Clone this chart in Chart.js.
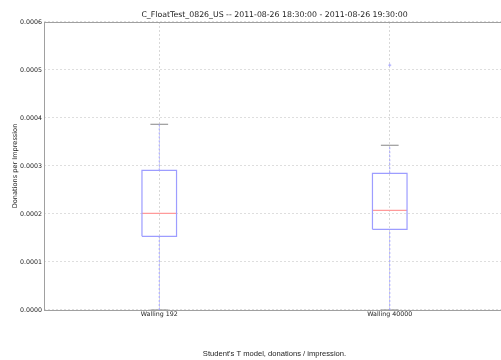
<!DOCTYPE html>
<html>
<head>
<meta charset="utf-8">
<script src="https://cdn.jsdelivr.net/npm/chart.js@4.4.1/dist/chart.umd.min.js"></script>
<style>
  html, body { margin: 0; padding: 0; background: #fff; overflow: hidden; }
  #wrap { width: 510px; height: 360px; }
</style>
</head>
<body>
<div id="wrap"><canvas id="c" width="510" height="360"></canvas></div>
<script>
// ---- data ----
const categories = ['Walling 192', 'Walling 40000'];
const q1 = [0.0001535, 0.0001681];
const medians = [0.0002014, 0.0002077];
const q3 = [0.0002910, 0.0002848];
const whiskerLow = [0.0, 0.0];
const whiskerHigh = [0.0003868, 0.0003431];
const fliers = [[], [0.000510]];
const yTicks = [0, 0.0001, 0.0002, 0.0003, 0.0004, 0.0005, 0.0006];

const BOX_HALF = 0.075;
const CAP_HALF = 0.0385;
const BLUE = '#9d9dff';
const datasets = [];
categories.forEach((cat, i) => {
  const x = i + 1;
  datasets.push({
    data: [{x: x - BOX_HALF, y: q1[i]}, {x: x + BOX_HALF, y: q1[i]}, {x: x + BOX_HALF, y: q3[i]},
           {x: x - BOX_HALF, y: q3[i]}, {x: x - BOX_HALF, y: q1[i]}],
    borderColor: BLUE, borderWidth: 1.2
  });
  datasets.push({
    data: [{x: x, y: whiskerLow[i]}, {x: x, y: q1[i]}],
    borderColor: BLUE, borderWidth: 1, borderDash: [2, 2]
  });
  datasets.push({
    data: [{x: x, y: q3[i]}, {x: x, y: whiskerHigh[i]}],
    borderColor: BLUE, borderWidth: 1, borderDash: [2, 2]
  });
  datasets.push({
    data: [{x: x - CAP_HALF, y: whiskerHigh[i]}, {x: x + CAP_HALF, y: whiskerHigh[i]}],
    borderColor: '#9a9a9a', borderWidth: 1.2
  });
  datasets.push({
    data: [{x: x - CAP_HALF, y: whiskerLow[i]}, {x: x + CAP_HALF, y: whiskerLow[i]}],
    borderColor: '#9a9a9a', borderWidth: 1.2
  });
  datasets.push({
    data: [{x: x - BOX_HALF, y: medians[i]}, {x: x + BOX_HALF, y: medians[i]}],
    borderColor: '#ff9a9a', borderWidth: 1.2
  });
  if (fliers[i].length) {
    datasets.push({
      data: fliers[i].map(v => ({x: x, y: v})),
      showLine: false, pointStyle: 'cross', pointRadius: 1.5,
      pointBorderColor: '#a8a8ff', pointBorderWidth: 1
    });
  }
});
datasets.forEach(d => {
  if (d.showLine === undefined) { d.showLine = true; d.pointRadius = 0; }
  d.fill = false; d.tension = 0;
});

const frame = {
  id: 'frame',
  afterDatasetsDraw(chart) {
    const {ctx, chartArea: a} = chart;
    ctx.save();
    ctx.strokeStyle = '#a0a0a0';
    ctx.lineWidth = 1;
    ctx.strokeRect(Math.round(a.left) + 0.5, Math.round(a.top) + 0.5,
                   Math.round(a.right - a.left), Math.round(a.bottom - a.top));
    ctx.restore();
  }
};

new Chart(document.getElementById('c'), {
  type: 'scatter',
  data: { datasets },
  plugins: [frame],
  options: {
    responsive: false,
    animation: false,
    layout: { padding: 0 },
    plugins: {
      legend: { display: false },
      tooltip: { enabled: false },
      title: {
        display: true,
        fullSize: false,
        text: 'C_FloatTest_0826_US -- 2011-08-26 18:30:00 - 2011-08-26 19:30:00',
        color: '#222',
        font: { family: 'DejaVu Sans', size: 7.8, weight: 'normal', lineHeight: 1.2 },
        padding: { top: 10.3, bottom: 2.3 }
      }
    },
    scales: {
      x: {
        type: 'linear',
        min: 0.5, max: 2.5,
        afterBuildTicks: s => { s.ticks = categories.map((c, i) => ({value: i + 1})); },
        afterFit: s => { s.height = 50; },
        ticks: {
          callback: v => categories[v - 1] || '',
          color: '#222', padding: 1, maxRotation: 0, autoSkip: false,
          font: { family: 'DejaVu Sans', size: 6.3 }
        },
        grid: { color: '#d8d8d8', lineWidth: 1, drawTicks: false },
        border: { display: false, dash: [2, 2] },
        title: {
          display: true,
          text: "Student's T model, donations / impression.",
          color: '#222',
          font: { family: 'Liberation Sans', size: 7.6, lineHeight: 1.2 },
          padding: { top: 0, bottom: 1.5 }
        }
      },
      y: {
        type: 'linear',
        min: 0, max: 0.0006,
        afterBuildTicks: s => { s.ticks = yTicks.map(v => ({value: v})); },
        afterFit: s => { s.width = 44; },
        ticks: {
          callback: v => v.toFixed(4),
          color: '#222', padding: 2,
          font: { family: 'DejaVu Sans', size: 6.3 }
        },
        grid: { color: '#dedede', lineWidth: 1, drawTicks: false },
        border: { display: false, dash: [2, 2] },
        title: {
          display: true,
          text: 'Donations per Impression',
          color: '#222',
          font: { family: 'DejaVu Sans', size: 6.6, lineHeight: 1.2 },
          padding: { top: 11, bottom: 0 }
        }
      }
    }
  }
});
</script>
</body>
</html>
